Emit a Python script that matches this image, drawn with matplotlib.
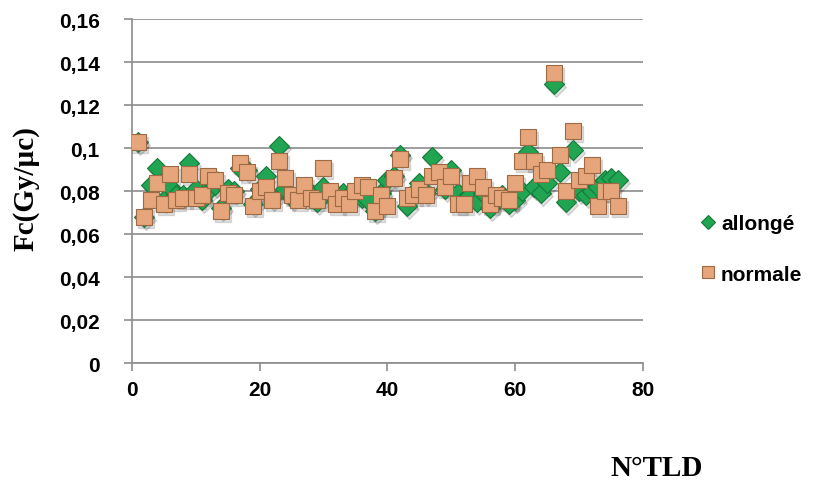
import matplotlib
matplotlib.use("Agg")
import matplotlib.pyplot as plt
from matplotlib.transforms import ScaledTranslation

# N°TLD
tld = list(range(1, 77))

# Fc (Gy/µc), position allongé
allonge = [0.103, 0.068, 0.083, 0.091, 0.076, 0.082, 0.078, 0.078, 0.093, 0.081,
           0.076, 0.080, 0.083, 0.072, 0.081, 0.080, 0.091, 0.090, 0.074, 0.081,
           0.087, 0.077, 0.101, 0.081, 0.077, 0.078, 0.080, 0.079, 0.075, 0.082,
           0.079, 0.077, 0.079, 0.078, 0.078, 0.077, 0.076, 0.071, 0.079, 0.085,
           0.087, 0.097, 0.073, 0.079, 0.084, 0.079, 0.096, 0.088, 0.081, 0.090,
           0.079, 0.076, 0.078, 0.075, 0.079, 0.072, 0.076, 0.078, 0.074, 0.076,
           0.080, 0.098, 0.082, 0.079, 0.084, 0.130, 0.089, 0.075, 0.099, 0.080,
           0.078, 0.080, 0.082, 0.085, 0.086, 0.085]

# Fc (Gy/µc), position normale
normale = [0.103, 0.068, 0.076, 0.084, 0.074, 0.088, 0.076, 0.077, 0.088, 0.077,
           0.078, 0.087, 0.085, 0.071, 0.079, 0.078, 0.093, 0.089, 0.073, 0.080,
           0.082, 0.076, 0.094, 0.086, 0.078, 0.076, 0.083, 0.077, 0.076, 0.091,
           0.080, 0.074, 0.077, 0.074, 0.080, 0.083, 0.082, 0.071, 0.078, 0.073,
           0.086, 0.095, 0.077, 0.078, 0.081, 0.078, 0.087, 0.089, 0.082, 0.087,
           0.074, 0.074, 0.084, 0.087, 0.082, 0.074, 0.078, 0.077, 0.076, 0.084,
           0.094, 0.105, 0.094, 0.088, 0.090, 0.135, 0.097, 0.080, 0.108, 0.085,
           0.087, 0.092, 0.073, 0.080, 0.080, 0.073]

y_ticks = [0, 0.02, 0.04, 0.06, 0.08, 0.1, 0.12, 0.14, 0.16]
y_labels = ["0", "0,02", "0,04", "0,06", "0,08", "0,1", "0,12", "0,14", "0,16"]
x_ticks = [0, 20, 40, 60, 80]

plt.rcParams['font.family'] = ['Liberation Sans', 'DejaVu Sans']

fig = plt.figure(figsize=(8.13, 4.81), dpi=100)
ax = fig.add_axes([0.162, 0.243, 0.629, 0.715])

shadow = ax.transData + ScaledTranslation(2/100, -3/100, fig.dpi_scale_trans)

# soft shadows under the markers
ax.plot(tld, allonge, ls="none", marker="D", markersize=10, color="black",
        alpha=0.12, transform=shadow)
ax.plot(tld, allonge, ls="none", marker="D", markersize=10,
        markerfacecolor="#21a552", markeredgecolor="#137a38", markeredgewidth=0.8,
        label="allongé", zorder=3)
ax.plot(tld, normale, ls="none", marker="s", markersize=11.5, color="black",
        alpha=0.12, transform=shadow)
ax.plot(tld, normale, ls="none", marker="s", markersize=11.5,
        markerfacecolor="#e6a57a", markeredgecolor="#9c6a45", markeredgewidth=0.8,
        label="normale", zorder=4)

ax.set_xlim(0, 80)
ax.set_ylim(0, 0.16)
ax.set_xticks(x_ticks)
ax.set_yticks(y_ticks)
ax.set_yticklabels(y_labels)
ax.grid(axis="y", color="#8c8c8c", linewidth=1.2)
ax.set_axisbelow(True)
for s in ["top", "right"]:
    ax.spines[s].set_visible(False)
for s in ["left", "bottom"]:
    ax.spines[s].set_color("#8c8c8c")
    ax.spines[s].set_linewidth(1.2)
ax.tick_params(axis="both", colors="#8c8c8c", length=6, width=1.2, labelcolor="black",
               labelsize=15)
ax.tick_params(axis="y", pad=17)
ax.tick_params(axis="x", pad=6)
for lab in ax.get_xticklabels() + ax.get_yticklabels():
    lab.set_fontweight("bold")

fig.text(0.032, 0.607, "Fc(Gy/µc)", rotation=90, ha="center", va="center",
         fontsize=21, fontweight="bold", family=["Liberation Serif", "DejaVu Serif"])
fig.text(0.808, 0.025, "N°TLD", ha="center", va="center",
         fontsize=21, fontweight="bold", family=["Liberation Serif", "DejaVu Serif"])

leg = fig.legend(loc="center left", bbox_to_anchor=(0.838, 0.48), frameon=False,
                 labelspacing=1.5, handletextpad=0.2, handlelength=0.8,
                 prop={"size": 15, "weight": "bold"}, markerscale=0.75)

fig.savefig("out.png", dpi=100)
